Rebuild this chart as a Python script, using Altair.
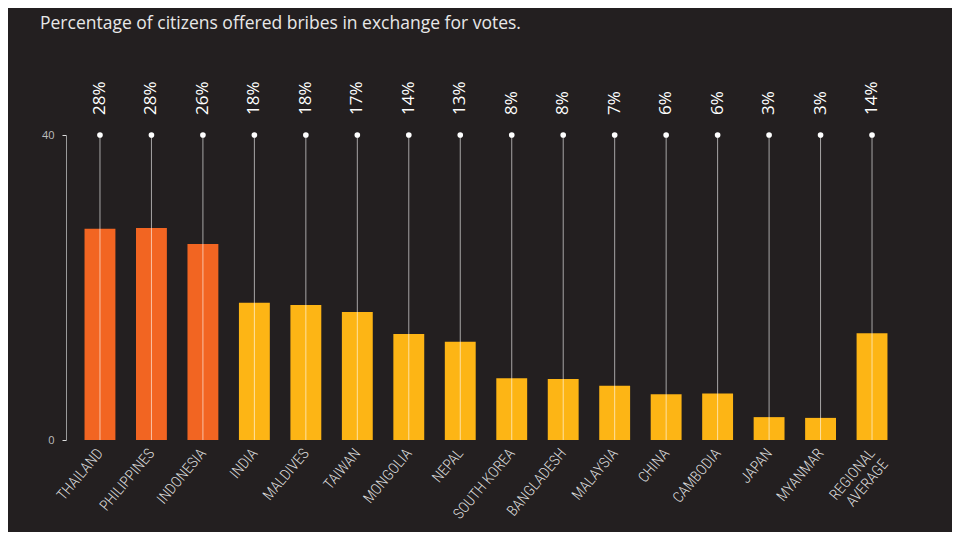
import altair as alt
import pandas as pd

countries = ["THAILAND", "PHILIPPINES", "INDONESIA", "INDIA", "MALDIVES", "TAIWAN",
             "MONGOLIA", "NEPAL", "SOUTH KOREA", "BANGLADESH", "MALAYSIA", "CHINA",
             "CAMBODIA", "JAPAN", "MYANMAR", "REGIONAL AVERAGE"]
values = [27.7, 27.8, 25.7, 18.0, 17.7, 16.8, 13.9, 12.9, 8.1, 8.0, 7.1, 6.0, 6.1, 3.0, 2.9, 14.0]
labels = ["28%", "28%", "26%", "18%", "18%", "17%", "14%", "13%", "8%", "8%", "7%",
          "6%", "6%", "3%", "3%", "14%"]
groups = ["high"] * 3 + ["low"] * 13
axis_max = 40

df = pd.DataFrame({"country": countries, "value": values, "label": labels,
                   "group": groups, "top": [axis_max] * len(countries),
                   "zero": [0] * len(countries)})

BG = "#231f20"

x = alt.X("country:N", sort=countries, title=None,
          scale=alt.Scale(paddingInner=0.4, paddingOuter=0.36),
          axis=alt.Axis(labelAngle=-50, labelAlign="right", labelBaseline="middle",
                        labelColor="#dcdcdc",
                        labelFont="Roboto Condensed, DejaVu Sans Condensed, Roboto",
                        labelFontSize=15, labelFontWeight=300, labelPadding=10,
                        domain=False, ticks=False,
                        labelLimit=200, labelLineHeight=17,
                        labelExpr="datum.value == 'REGIONAL AVERAGE' ? ['REGIONAL', 'AVERAGE'] : datum.value"))

yscale = alt.Scale(domain=[0, axis_max], nice=False)

bars = alt.Chart(df).mark_bar().encode(
    x=x,
    y=alt.Y("value:Q", scale=yscale, title=None,
            axis=alt.Axis(values=[0, 40], grid=False, domainColor="#9a9a9a",
                          tickColor="#dddddd", tickSize=4, labelColor="#bdbdbd",
                          labelFontSize=11, labelPadding=8, labelFont="Open Sans")),
    color=alt.Color("group:N", scale=alt.Scale(domain=["high", "low"],
                                               range=["#f26522", "#fdb515"]), legend=None),
)

rules = alt.Chart(df).mark_rule(color="#ffffff", opacity=0.6, strokeWidth=1).encode(
    x=alt.X("country:N", sort=countries),
    y=alt.Y("zero:Q", scale=yscale),
    y2="top:Q",
)

dots = alt.Chart(df).mark_point(filled=True, color="#ffffff", size=32, opacity=1).encode(
    x=alt.X("country:N", sort=countries),
    y=alt.Y("top:Q", scale=yscale),
)

texts = alt.Chart(df).mark_text(angle=270, align="left", baseline="middle",
                                color="#ffffff", fontSize=17, font="Open Sans").encode(
    x=alt.X("country:N", sort=countries),
    y=alt.value(-20),
    text="label:N",
)

chart = alt.layer(bars, rules, dots, texts).properties(
    width=840, height=305,
    background=BG,
    padding={"left": 58, "top": 127, "right": 46, "bottom": 92},
    autosize=alt.AutoSizeParams(type="none"),
    title=alt.TitleParams("Percentage of citizens offered bribes in exchange for votes.",
                          anchor="start", frame="group", color="#e8e8e8",
                          font="Open Sans", fontSize=17.5, fontWeight="normal",
                          dx=-26, dy=-31, orient="top", baseline="alphabetic"),
).configure_view(stroke=None)

chart.save("out.html", embed_options={"renderer": "svg", "actions": False})
